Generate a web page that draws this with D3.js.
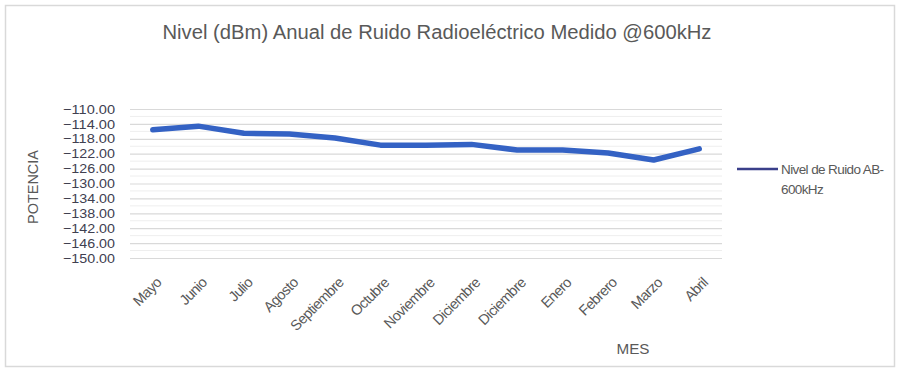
<!DOCTYPE html>
<html>
<head>
<meta charset="utf-8">
<script src="https://cdn.jsdelivr.net/npm/d3@7"></script>
<style>
  html, body { margin: 0; padding: 0; background: #fff; }
  svg { display: block; }
</style>
</head>
<body>
<svg id="chart" width="919" height="369"></svg>
<script>
// Monthly noise level values (dBm)
const months = ["Mayo", "Junio", "Julio", "Agosto", "Septiembre", "Octubre", "Noviembre",
                "Diciembre", "Diciembre", "Enero", "Febrero", "Marzo", "Abril"];
const noiseLevel = [-115.6, -114.6, -116.5, -116.7, -117.8, -119.7, -119.7,
                    -119.5, -121.0, -121.0, -121.8, -123.7, -120.7];
const yTicks = [-110, -114, -118, -122, -126, -130, -134, -138, -142, -146, -150];
const seriesName = ["Nivel de Ruido AB-", "600kHz"];
const titleText = "Nivel (dBm) Anual de Ruido Radioeléctrico Medido @600kHz";

const svg = d3.select("#chart");
const font = "'Liberation Sans', Arial, sans-serif";
const textColor = "#595959";
const lineColor = "#3462c4";

// Outer frame
svg.append("rect")
  .attr("x", 5.5).attr("y", 5.5).attr("width", 889).attr("height", 361)
  .attr("fill", "#fff").attr("stroke", "#d9d9d9").attr("stroke-width", 1.5);

const plot = { left: 130, right: 722, top: 109, bottom: 258 };

const x = d3.scaleBand().domain(d3.range(months.length))
  .range([plot.left, plot.right]);
const y = d3.scaleLinear().domain([-150, -110]).range([plot.bottom, plot.top]);

// Minor gridlines between the labelled ticks
svg.append("g").selectAll("line")
  .data(d3.range(-148, -110, 4))
  .join("line")
  .attr("x1", plot.left).attr("x2", plot.right)
  .attr("y1", d => y(d)).attr("y2", d => y(d))
  .attr("stroke", "#eeeeee").attr("stroke-width", 1);

// Major gridlines from the y axis ticks
const yAxis = d3.axisLeft(y).tickValues(yTicks)
  .tickSize(-(plot.right - plot.left)).tickFormat(d3.format(".2f"));
const gy = svg.append("g").attr("transform", `translate(${plot.left},0)`).call(yAxis);
gy.select(".domain").remove();
gy.selectAll(".tick line").attr("stroke", "#d9d9d9").attr("stroke-width", 1.2);
gy.selectAll(".tick text")
  .attr("x", -15)
  .attr("fill", "#404050")
  .style("font-family", font)
  .style("font-size", "12.8px")
  .attr("textLength", 52)
  .attr("lengthAdjust", "spacingAndGlyphs");

// X axis labels (rotated)
const xAxis = d3.axisBottom(x).tickSize(0).tickFormat(i => months[i]);
const gx = svg.append("g").attr("transform", `translate(0,${plot.bottom})`).call(xAxis);
gx.select(".domain").remove();
gx.selectAll(".tick text")
  .attr("text-anchor", "end")
  .attr("transform", "translate(6,22) rotate(-45)")
  .attr("dy", "0.35em").attr("y", 0)
  .attr("fill", textColor)
  .style("font-family", font)
  .style("font-size", "14.5px")
  .style("letter-spacing", "-0.6px");

// Series line
const line = d3.line()
  .x((d, i) => x(i) + x.bandwidth() / 2)
  .y(d => y(d));
svg.append("path")
  .datum(noiseLevel)
  .attr("d", line)
  .attr("fill", "none")
  .attr("stroke", lineColor)
  .attr("stroke-width", 5.5)
  .attr("stroke-linecap", "round")
  .attr("stroke-linejoin", "round");

// Title
svg.append("text")
  .attr("x", 437).attr("y", 39)
  .attr("text-anchor", "middle")
  .attr("fill", textColor)
  .style("font-family", font)
  .style("font-size", "20px")
  .attr("textLength", 549)
  .attr("lengthAdjust", "spacingAndGlyphs")
  .text(titleText);

// Axis titles
svg.append("text")
  .attr("transform", "translate(38,187) rotate(-90)")
  .attr("text-anchor", "middle")
  .attr("fill", textColor)
  .style("font-family", font)
  .style("font-size", "14.5px")
  .attr("textLength", 74)
  .attr("lengthAdjust", "spacingAndGlyphs")
  .text("POTENCIA");

svg.append("text")
  .attr("x", 633).attr("y", 354)
  .attr("text-anchor", "middle")
  .attr("fill", textColor)
  .style("font-family", font)
  .style("font-size", "15px")
  .attr("textLength", 33)
  .attr("lengthAdjust", "spacingAndGlyphs")
  .text("MES");

// Legend
svg.append("line")
  .attr("x1", 737).attr("x2", 778).attr("y1", 169).attr("y2", 169)
  .attr("stroke", "#3a3f8a").attr("stroke-width", 2.5);
const leg = svg.append("text")
  .attr("fill", textColor)
  .style("font-family", font)
  .style("font-size", "13.5px")
  .style("letter-spacing", "-0.6px");
leg.selectAll("tspan").data(seriesName).join("tspan")
  .attr("x", 781)
  .attr("y", (d, i) => 174 + i * 20)
  .text(d => d);
</script>
</body>
</html>
